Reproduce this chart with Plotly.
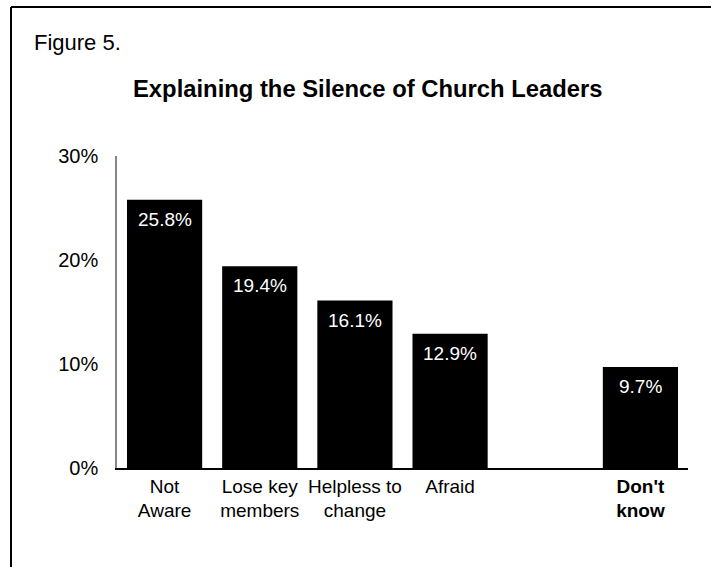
import plotly.graph_objects as go

categories = ["Not<br>Aware", "Lose key<br>members", "Helpless to<br>change", "Afraid", " ", "<b>Don't<br>know</b>"]
values = [25.8, 19.4, 16.1, 12.9, None, 9.7]
labels = ["25.8%", "19.4%", "16.1%", "12.9%", "", "9.7%"]
y_ticks = [0, 10, 20, 30]
y_ticktext = ["0%", "10%", "20%", "30%"]

FONT = "Liberation Sans, Arial, sans-serif"

# plot area in pixels
L, R, T, B = 117, 688, 156, 468
W, H = 711, 567
pw, ph = R - L, B - T

def px(x):
    return (x - L) / pw

def py(y):
    return (B - y) / ph

fig = go.Figure()
fig.add_trace(go.Bar(
    x=categories, y=values,
    marker=dict(color="black", line=dict(width=0)),
    hoverinfo="skip",
))

annotations = []
for c, v, t in zip(categories, values, labels):
    if v is None:
        continue
    annotations.append(dict(
        x=c, y=v, xref="x", yref="y", text=t, showarrow=False,
        yanchor="top", yshift=-7,
        font=dict(family=FONT, size=19, color="white"),
    ))

annotations.append(dict(
    x=px(32), y=py(43), xref="paper", yref="paper", text="Figure 5.",
    showarrow=False, xanchor="left", yanchor="middle",
    font=dict(family=FONT, size=22, color="black"),
))
annotations.append(dict(
    x=px(367.5), y=py(88), xref="paper", yref="paper",
    text="<b>Explaining the Silence of Church Leaders</b>",
    showarrow=False, xanchor="center", yanchor="middle",
    font=dict(family=FONT, size=23.8, color="black"),
))

shapes = [
    dict(type="line", xref="paper", yref="paper",
         x0=px(11), x1=px(720), y0=py(7), y1=py(7),
         line=dict(color="black", width=2)),
    dict(type="line", xref="paper", yref="paper",
         x0=px(11), x1=px(11), y0=py(7), y1=py(580),
         line=dict(color="black", width=2)),
]

fig.update_layout(
    width=W, height=H,
    margin=dict(l=L, r=W - R, t=T, b=H - B, pad=0),
    paper_bgcolor="white", plot_bgcolor="white",
    bargap=0.21,
    showlegend=False,
    annotations=annotations,
    shapes=shapes,
    font=dict(family=FONT, color="black"),
)
fig.update_xaxes(
    type="category", categoryorder="array", categoryarray=categories,
    showline=True, linecolor="black", linewidth=1.5,
    ticks="", showgrid=False, zeroline=False,
    tickfont=dict(family=FONT, size=19, color="black"),
    fixedrange=True,
)
fig.update_yaxes(
    range=[0, 30], tickvals=y_ticks, ticktext=y_ticktext,
    showline=True, linecolor="#888888", linewidth=1.5,
    ticks="outside", ticklen=13, tickcolor="rgba(0,0,0,0)",
    showgrid=False, zeroline=False,
    tickfont=dict(family=FONT, size=20, color="black"),
    fixedrange=True,
)

fig.write_html("out.html", config={"displayModeBar": False})
